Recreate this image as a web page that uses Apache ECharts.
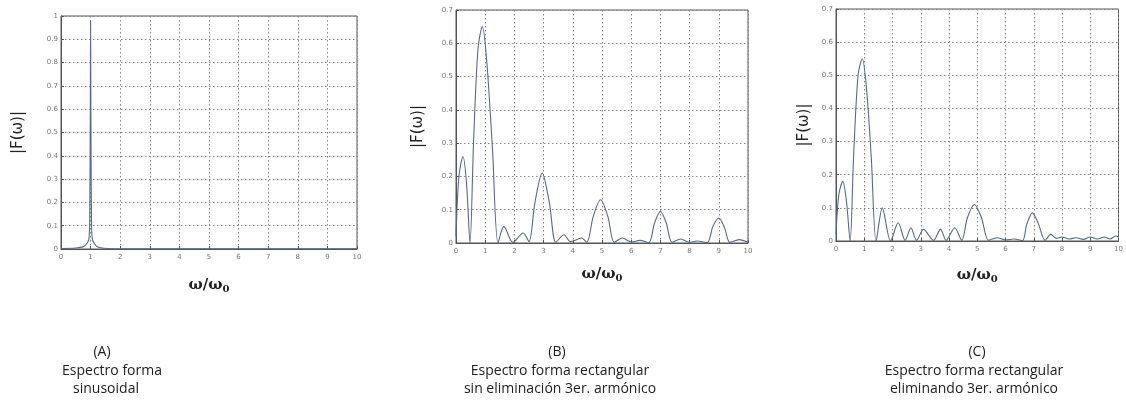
<!DOCTYPE html>
<html>
<head>
<meta charset="utf-8">
<script src="https://cdn.jsdelivr.net/npm/echarts@6/dist/echarts.min.js"></script>
<style>
  html, body { margin: 0; padding: 0; background: #fff; }
  #chart { width: 1126px; height: 405px; }
</style>
</head>
<body>
<div id="chart"></div>
<script>
// espectro senoidal (A): [omega/omega0, |F|]
var specA = [
  [0, 0.002], [0.5, 0.004], [0.7, 0.008], [0.8, 0.014], [0.88, 0.025],
  [0.94, 0.04], [0.97, 0.12], [0.99, 0.6], [1.0, 0.98], [1.01, 0.6],
  [1.03, 0.12], [1.06, 0.04], [1.12, 0.025], [1.2, 0.012], [1.35, 0.005],
  [1.6, 0.002], [2, 0.001], [4, 0.001], [10, 0.001]
];
// espectro rectangular sin eliminacion (B)
var specB = [
  [0, 0.02], [0.1, 0.2], [0.24, 0.26], [0.36, 0.18], [0.48, 0],
  [0.6, 0.3], [0.75, 0.58], [0.9, 0.65], [1.05, 0.55], [1.25, 0.28], [1.44, 0],
  [1.64, 0.05], [1.95, 0.002], [2.3, 0.03], [2.5, 0.004],
  [2.7, 0.12], [2.95, 0.21], [3.2, 0.12], [3.42, 0.002],
  [3.7, 0.025], [3.92, 0.004], [4.3, 0.015], [4.48, 0.002],
  [4.7, 0.08], [4.95, 0.13], [5.2, 0.08], [5.42, 0.002],
  [5.7, 0.015], [6.0, 0.003], [6.3, 0.008], [6.6, 0.001],
  [6.8, 0.06], [7.0, 0.095], [7.2, 0.06], [7.4, 0.002],
  [7.7, 0.012], [8.0, 0.002], [8.25, 0.006], [8.6, 0.001],
  [8.8, 0.05], [9.0, 0.075], [9.2, 0.045], [9.38, 0.002],
  [9.7, 0.01], [10, 0.002]
];
// espectro rectangular eliminando 3er armonico (C)
var specC = [
  [0, 0.02], [0.1, 0.14], [0.24, 0.18], [0.37, 0.12], [0.5, 0],
  [0.62, 0.25], [0.78, 0.5], [0.93, 0.55], [1.08, 0.46], [1.25, 0.25], [1.42, 0],
  [1.64, 0.1], [1.93, 0], [2.2, 0.055], [2.45, 0.002],
  [2.65, 0.04], [2.85, 0.002], [3.1, 0.035], [3.45, 0.002],
  [3.7, 0.035], [3.9, 0.002], [4.2, 0.04], [4.45, 0.002],
  [4.65, 0.07], [4.9, 0.11], [5.15, 0.07], [5.4, 0.002],
  [5.7, 0.01], [6.0, 0.003], [6.3, 0.006], [6.6, 0.001],
  [6.75, 0.05], [6.95, 0.085], [7.15, 0.055], [7.4, 0.002],
  [7.6, 0.02], [7.8, 0.008], [8.0, 0.012], [8.25, 0.006], [8.5, 0.01],
  [8.75, 0.005], [9.0, 0.012], [9.25, 0.006], [9.5, 0.012], [9.7, 0.006],
  [9.9, 0.015], [10, 0.012]
];
var yMaxA = 1, yMaxB = 0.7, yMaxC = 0.7;
var captionsA = ['(A)', 'Espectro forma', 'sinusoidal'];
var captionsB = ['(B)', 'Espectro forma rectangular', 'sin eliminación 3er. armónico'];
var captionsC = ['(C)', 'Espectro forma rectangular', 'eliminando 3er. armónico'];

var labelFont = { fontSize: 7, color: '#777', fontFamily: 'DejaVu Sans' };
var gridLine = { show: true, lineStyle: { color: '#888', type: [1.5, 2.5], width: 1 } };

function xAx(i, gap) {
  return {
    type: 'value', gridIndex: i, min: 0, max: 10, interval: 1,
    axisLine: { show: true, lineStyle: { color: '#555' } },
    axisTick: { inside: true, length: 3, lineStyle: { color: '#555' } },
    axisLabel: Object.assign({ margin: 5 }, labelFont),
    splitLine: gridLine,
    name: 'ω/ω{s|0}', nameLocation: 'middle', nameGap: gap,
    nameTextStyle: {
      fontFamily: 'DejaVu Serif', fontSize: 15, color: '#222', fontWeight: 'bold',
      rich: { s: { fontFamily: 'DejaVu Serif', fontSize: 10, color: '#222', fontWeight: 'bold', verticalAlign: 'bottom', padding: [8, 0, 0, 0] } }
    }
  };
}
function yAx(i, max, gap) {
  return {
    type: 'value', gridIndex: i, min: 0, max: max, interval: 0.1,
    axisLine: { show: true, lineStyle: { color: '#555' } },
    axisTick: { inside: true, length: 3, lineStyle: { color: '#555' } },
    axisLabel: Object.assign({ margin: 3 }, labelFont),
    splitLine: gridLine,
    name: '|F(ω)|', nameLocation: 'middle', nameRotate: 90, nameGap: gap,
    nameTextStyle: { fontFamily: 'DejaVu Sans', fontSize: 15, color: '#222' }
  };
}
function captionGraphics(lines, xs) {
  var ys = [352, 371, 389];
  return lines.map(function (t, k) {
    return {
      type: 'text', x: xs[k], y: ys[k],
      style: { text: t, fill: '#222', font: '14px "Open Sans"', textAlign: 'center', textVerticalAlign: 'middle' }
    };
  });
}
function lineSeries(i, data) {
  return {
    type: 'line', xAxisIndex: i, yAxisIndex: i, data: data,
    showSymbol: false, smooth: 0.3, animation: false,
    lineStyle: { color: '#5a6890', width: 1.1 }
  };
}

var chart = echarts.init(document.getElementById('chart'));
chart.setOption({
  backgroundColor: '#fff',
  animation: false,
  grid: [
    { left: 61, top: 16, width: 296, height: 233, show: true, borderColor: '#555', borderWidth: 1 },
    { left: 456, top: 10, width: 292, height: 233, show: true, borderColor: '#555', borderWidth: 1 },
    { left: 836, top: 9, width: 295, height: 232, show: true, borderColor: '#555', borderWidth: 1 }
  ],
  xAxis: [xAx(0, 27), xAx(1, 22), xAx(2, 25)],
  yAxis: [yAx(0, yMaxA, 35), yAx(1, yMaxB, 30), yAx(2, yMaxC, 24)],
  series: [lineSeries(0, specA), lineSeries(1, specB), lineSeries(2, specC)],
  graphic: captionGraphics(captionsA, [102, 112, 106])
    .concat(captionGraphics(captionsB, [557, 560, 560]))
    .concat(captionGraphics(captionsC, [977, 974, 974]))
});
</script>
</body>
</html>
